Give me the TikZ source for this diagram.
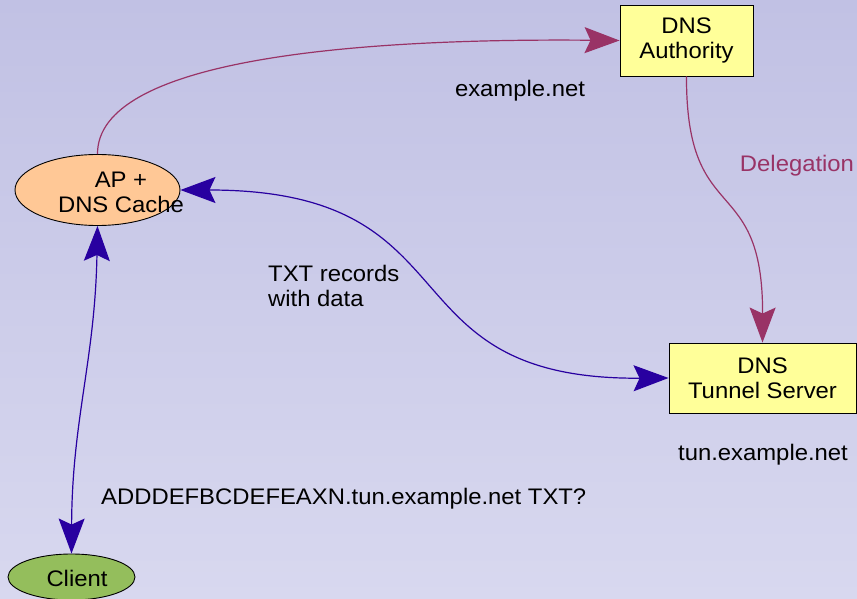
\documentclass[tikz,border=0pt]{standalone}
\usepackage{fontspec}
\setmainfont{Liberation Sans}[FakeStretch=1.06]
\usetikzlibrary{shapes.geometric,arrows.meta}
\definecolor{bgtop}{RGB}{193,193,228}
\definecolor{bgbot}{RGB}{216,216,239}
\definecolor{peach}{RGB}{255,200,150}
\definecolor{paleyellow}{RGB}{255,255,153}
\definecolor{clientgreen}{RGB}{148,190,92}
\definecolor{edgemaroon}{RGB}{153,51,102}
\definecolor{edgeblue}{RGB}{40,0,160}
\begin{document}
\begin{tikzpicture}[x=1pt,y=-1pt,
  lbl/.style={font=\fontsize{22.5}{25}\selectfont, inner sep=0pt, text=black, align=center},
  boxnode/.style={rectangle, draw=black, line width=0.9pt, fill=paleyellow, inner sep=0pt, lbl},
  ovalnode/.style={ellipse, draw=black, line width=0.9pt, inner sep=0pt},
  tipstyle/.style={-{Stealth[length=35pt,width=26pt,inset=6pt]}},
  linkm/.style={draw=edgemaroon, line width=1.2pt, tipstyle},
  linkb/.style={draw=edgeblue, line width=1.2pt, {Stealth[length=35pt,width=26pt,inset=6pt]}-{Stealth[length=35pt,width=26pt,inset=6pt]}},
]
\useasboundingbox (0,0) rectangle (857,599);
\shade[top color=bgtop, bottom color=bgbot] (0,0) rectangle (857,599);

% nodes
\node[ovalnode, fill=peach, minimum width=165pt, minimum height=71pt] (ap) at (97.5,190) {};
\node[boxnode, minimum width=133pt, minimum height=71pt] (auth) at (686.5,40.5) {DNS\\Authority};
\node[boxnode, minimum width=187pt, minimum height=70pt] (tun) at (762.5,378) {DNS\\Tunnel Server};
\node[ovalnode, fill=clientgreen, minimum width=127pt, minimum height=46pt] (client) at (71.5,577) {};

% connectors
\draw[linkm] (ap.north) .. controls (97,60) and (350,38) .. (auth.west);
\draw[linkm] (auth.south) .. controls (686,230) and (763,170) .. (tun.north);
\draw[linkb] (ap.east) .. controls (480,190) and (380,380) .. (tun.west);
\draw[linkb] (ap.south) .. controls (95,360) and (72,420) .. (client.north);

% texts
\node[lbl] (aptext) at (121,192) {AP +\\DNS Cache};
\node[lbl] (clienttext) at (77,578) {Client};
\node[lbl, anchor=base] (exnet) at (520,97) {example.net};
\node[lbl, anchor=base, text=edgemaroon] (deleg) at (797,171.5) {Delegation};
\node[lbl, align=left, anchor=west] (txt) at (268,286) {TXT records\\with data};
\node[lbl, anchor=base west] (query) at (101,504) {ADDDEFBCDEFEAXN.tun.example.net TXT?};
\node[lbl, anchor=base] (tunnet) at (763,460) {tun.example.net};
\end{tikzpicture}
\end{document}
